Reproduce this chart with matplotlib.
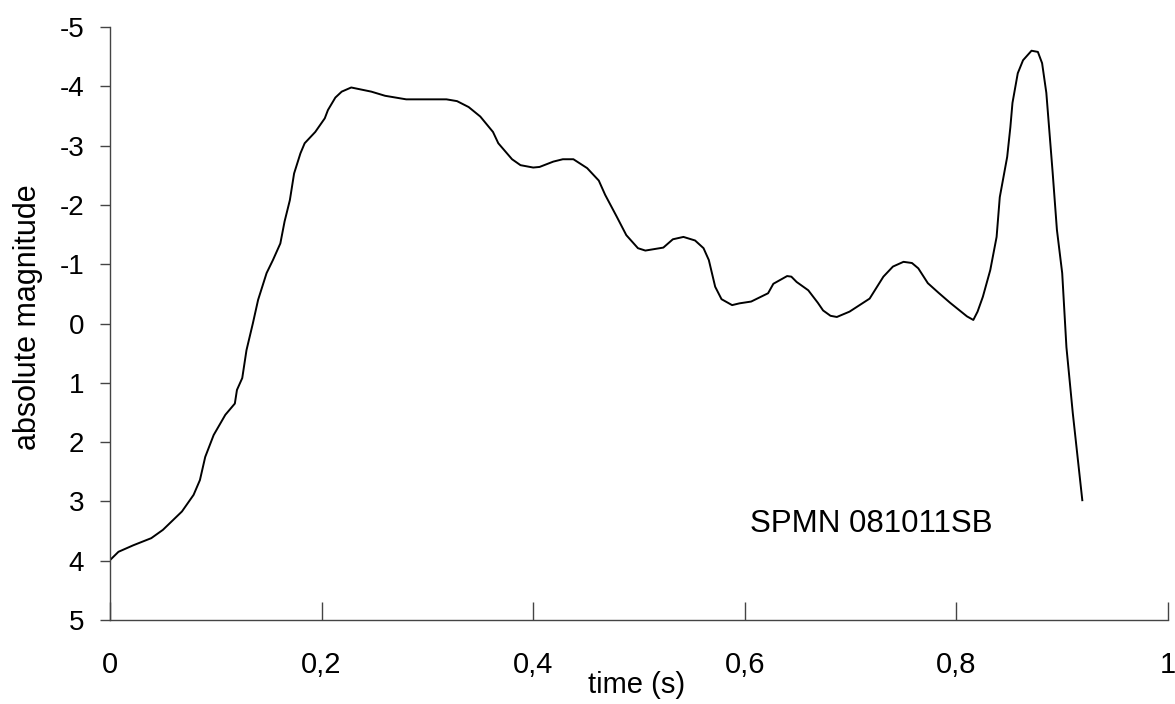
import matplotlib
matplotlib.use("Agg")
import matplotlib.pyplot as plt
from matplotlib.ticker import FuncFormatter

plt.rcParams['font.family'] = ['Liberation Sans', 'DejaVu Sans']

time_s = [0.0, 0.008, 0.022, 0.039, 0.05, 0.068, 0.079, 0.085, 0.09, 0.098, 0.109, 0.118, 0.12, 0.125,
          0.129, 0.135, 0.14, 0.148, 0.154, 0.161, 0.165, 0.17, 0.174, 0.18, 0.184, 0.194, 0.203, 0.206,
          0.213, 0.219, 0.228, 0.247, 0.26, 0.28, 0.318, 0.328, 0.339, 0.35, 0.362, 0.367, 0.38, 0.388,
          0.4, 0.406, 0.419, 0.428, 0.438, 0.451, 0.462, 0.468, 0.479, 0.488, 0.499, 0.506, 0.523, 0.532,
          0.542, 0.553, 0.561, 0.566, 0.572, 0.578, 0.588, 0.595, 0.606, 0.622, 0.627, 0.64, 0.644, 0.649,
          0.66, 0.669, 0.674, 0.681, 0.687, 0.699, 0.718, 0.731, 0.74, 0.75, 0.758, 0.764, 0.773, 0.783,
          0.794, 0.81, 0.816, 0.82, 0.825, 0.832, 0.838, 0.841, 0.848, 0.851, 0.853, 0.858, 0.863, 0.871,
          0.877, 0.881, 0.885, 0.891, 0.895, 0.9, 0.904, 0.91, 0.919]
magnitude = [3.99, 3.85, 3.74, 3.62, 3.48, 3.17, 2.89, 2.64, 2.25, 1.88, 1.54, 1.35, 1.12, 0.92,
             0.45, 0.0, -0.4, -0.85, -1.07, -1.35, -1.72, -2.08, -2.53, -2.87, -3.04, -3.23, -3.46, -3.6,
             -3.81, -3.91, -3.98, -3.91, -3.84, -3.78, -3.78, -3.75, -3.65, -3.49, -3.23, -3.04, -2.77, -2.67,
             -2.63, -2.64, -2.73, -2.77, -2.77, -2.62, -2.41, -2.17, -1.8, -1.49, -1.27, -1.23, -1.28, -1.42,
             -1.46, -1.4, -1.27, -1.07, -0.62, -0.41, -0.31, -0.34, -0.37, -0.51, -0.67, -0.8, -0.79, -0.7,
             -0.56, -0.35, -0.22, -0.13, -0.11, -0.2, -0.42, -0.79, -0.96, -1.04, -1.02, -0.93, -0.68, -0.52,
             -0.35, -0.12, -0.06, -0.2, -0.45, -0.9, -1.46, -2.13, -2.81, -3.31, -3.72, -4.22, -4.44, -4.6,
             -4.58, -4.39, -3.89, -2.54, -1.58, -0.85, 0.4, 1.51, 2.98]

x_ticks = [0, 0.2, 0.4, 0.6, 0.8, 1.0]
y_ticks = [-5, -4, -3, -2, -1, 0, 1, 2, 3, 4, 5]
annotation = "SPMN 081011SB"

fig = plt.figure(figsize=(11.75, 7.04), dpi=100)
ax = fig.add_axes([110/1175, 1 - 620/704, (1168-110)/1175, (620-27)/704])

ax.plot(time_s, magnitude, color='black', linewidth=1.4)

ax.set_xlim(0, 1)
ax.set_ylim(5, -5)
ax.set_xticks(x_ticks)
ax.set_yticks(y_ticks)
ax.xaxis.set_major_formatter(FuncFormatter(lambda v, p: ('%g' % v).replace('.', ',')))
ax.yaxis.set_major_formatter(FuncFormatter(lambda v, p: '%d' % v))

for s in ['top', 'right']:
    ax.spines[s].set_visible(False)
for s in ['left', 'bottom']:
    ax.spines[s].set_color('#444444')
    ax.spines[s].set_linewidth(1.0)

ax.tick_params(axis='x', direction='in', length=13, width=1, color='#444444', labelsize=21, pad=22)
ax.tick_params(axis='y', direction='out', length=7.5, width=1, color='#444444', labelsize=20, pad=11)

ax.set_xlabel('time (s)', fontsize=21)
ax.xaxis.set_label_coords(0.498, -0.086)
ax.set_ylabel('absolute magnitude', fontsize=22)
ax.yaxis.set_label_coords(-0.063, 0.51)

ax.text(0.605, 3.52, annotation, fontsize=22.5, ha='left', va='baseline')

fig.savefig('out.png', dpi=100)
